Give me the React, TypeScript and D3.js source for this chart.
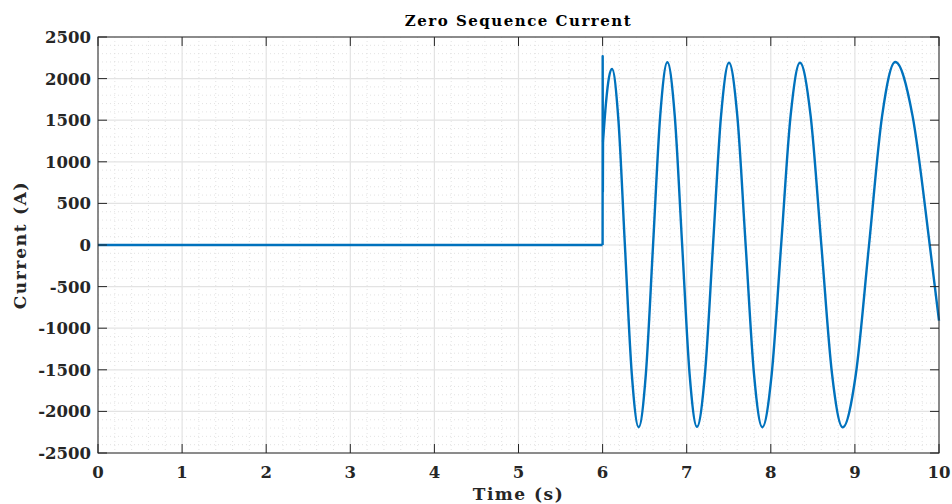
import React from "react";
import * as d3 from "d3";

// Pre-fault: flat zero current
const preTime = [0, 6.0];
const preCurrent = [0, 0];

// Post-fault (t >= 6 s): values (extrema, zero crossings, intermediate points)
const postTime = [
  6.0, 6.001, 6.003, 6.005, 6.04, 6.075, 6.112, 6.1885, 6.265, 6.347, 6.429,
  6.5145, 6.6, 6.685, 6.77, 6.858, 6.946, 7.034, 7.122, 7.2175, 7.313, 7.408,
  7.503, 7.602, 7.701, 7.8, 7.899, 8.011, 8.123, 8.235, 8.347, 8.474, 8.601,
  8.728, 8.855, 9.0115, 9.168, 9.324, 9.48, 9.685, 9.89, 10.0,
];
const postCurrent = [
  0, 2270, 640, 1240, 1705, 2009, 2115, 1495, 0, -1548, -2190,
  -1548, 0, 1553, 2196, 1553, 0, -1545, -2185, -1545, 0, 1548,
  2190, 1548, 0, -1548, -2190, -1548, 0, 1548, 2190, 1548, 0,
  -1550, -2192, -1550, 0, 1555, 2200, 1555, 0, -910,
];

const xTicks = [0, 1, 2, 3, 4, 5, 6, 7, 8, 9, 10];
const yTicks = [-2500, -2000, -1500, -1000, -500, 0, 500, 1000, 1500, 2000, 2500];

const titleText = "Zero Sequence Current";
const xLabel = "Time (s)";
const yLabel = "Current (A)";

const W = 952;
const H = 504;
const M = { left: 98, right: 939, top: 37, bottom: 453 };
const FONT = "'DejaVu Serif', serif";
const AXIS = "#262626";

export default function App() {
  const x = d3.scaleLinear().domain([0, 10]).range([M.left, M.right]);
  const y = d3.scaleLinear().domain([-2500, 2500]).range([M.bottom, M.top]);

  const xMinor = d3.range(0, 10.0001, 0.2).filter((v) => Math.abs(v - Math.round(v)) > 1e-6);
  const yMinor = d3.range(-2500, 2501, 100).filter((v) => v % 500 !== 0);

  const line = d3
    .line<[number, number]>()
    .x((d) => x(d[0]))
    .y((d) => y(d[1]));

  const preData: [number, number][] = preTime.map((t, i) => [t, preCurrent[i]]);
  const spikeData: [number, number][] = postTime.slice(0, 4).map((t, i) => [t, postCurrent[i]]);
  const waveData: [number, number][] = postTime.slice(3).map((t, i) => [t, postCurrent[i + 3]]);
  const lineCurve = d3
    .line<[number, number]>()
    .x((d) => x(d[0]))
    .y((d) => y(d[1]))
    .curve(d3.curveMonotoneX);

  const tickLen = 9;

  return (
    <svg width={W} height={H} style={{ position: "absolute", left: 0, top: 0, background: "#fff" }}>
      <rect x={0} y={0} width={W} height={H} fill="#fff" />
      {/* minor grid */}
      <g stroke="#dcdcdc" strokeWidth={0.8} strokeDasharray="1,3">
        {xMinor.map((v) => (
          <line key={"xm" + v} x1={x(v)} x2={x(v)} y1={M.top} y2={M.bottom} />
        ))}
        {yMinor.map((v) => (
          <line key={"ym" + v} x1={M.left} x2={M.right} y1={y(v)} y2={y(v)} />
        ))}
      </g>
      {/* major grid */}
      <g stroke="#e3e3e3" strokeWidth={1.2}>
        {xTicks.map((v) => (
          <line key={"xg" + v} x1={x(v)} x2={x(v)} y1={M.top} y2={M.bottom} />
        ))}
        {yTicks.map((v) => (
          <line key={"yg" + v} x1={M.left} x2={M.right} y1={y(v)} y2={y(v)} />
        ))}
      </g>
      {/* data */}
      <g fill="none" stroke="#0072BD" strokeWidth={2.4} strokeLinejoin="round">
        <path d={line(preData) || ""} />
        <path d={line(spikeData) || ""} />
        <path d={lineCurve(waveData) || ""} />
      </g>
      {/* box */}
      <rect
        x={M.left}
        y={M.top}
        width={M.right - M.left}
        height={M.bottom - M.top}
        fill="none"
        stroke={AXIS}
        strokeWidth={1}
      />
      {/* ticks */}
      <g stroke={AXIS} strokeWidth={1}>
        {xTicks.map((v) => (
          <g key={"xt" + v}>
            <line x1={x(v)} x2={x(v)} y1={M.bottom} y2={M.bottom - tickLen} />
            <line x1={x(v)} x2={x(v)} y1={M.top} y2={M.top + tickLen} />
          </g>
        ))}
        {yTicks.map((v) => (
          <g key={"yt" + v}>
            <line x1={M.left} x2={M.left + tickLen} y1={y(v)} y2={y(v)} />
            <line x1={M.right} x2={M.right - tickLen} y1={y(v)} y2={y(v)} />
          </g>
        ))}
      </g>
      {/* tick labels */}
      <g fontFamily={FONT} fontWeight="bold" fontSize={16.5} fill={AXIS}>
        {xTicks.map((v) => (
          <text key={"xl" + v} x={x(v)} y={478} textAnchor="middle">
            {v}
          </text>
        ))}
        {yTicks.map((v) => (
          <text key={"yl" + v} x={91} y={y(v) + 6} textAnchor="end">
            {v}
          </text>
        ))}
      </g>
      {/* titles */}
      <text
        x={(M.left + M.right) / 2}
        y={26}
        textAnchor="middle"
        fontFamily={FONT}
        fontWeight="bold"
        fontSize={15}
        letterSpacing={1.5}
        fill="#000"
      >
        {titleText}
      </text>
      <text
        x={(M.left + M.right) / 2}
        y={500}
        textAnchor="middle"
        fontFamily={FONT}
        fontWeight="bold"
        fontSize={17}
        letterSpacing={1.5}
        fill={AXIS}
      >
        {xLabel}
      </text>
      <text
        transform={`translate(26, ${(M.top + M.bottom) / 2}) rotate(-90)`}
        textAnchor="middle"
        fontFamily={FONT}
        fontWeight="bold"
        fontSize={17}
        letterSpacing={1.7}
        fill={AXIS}
      >
        {yLabel}
      </text>
    </svg>
  );
}
